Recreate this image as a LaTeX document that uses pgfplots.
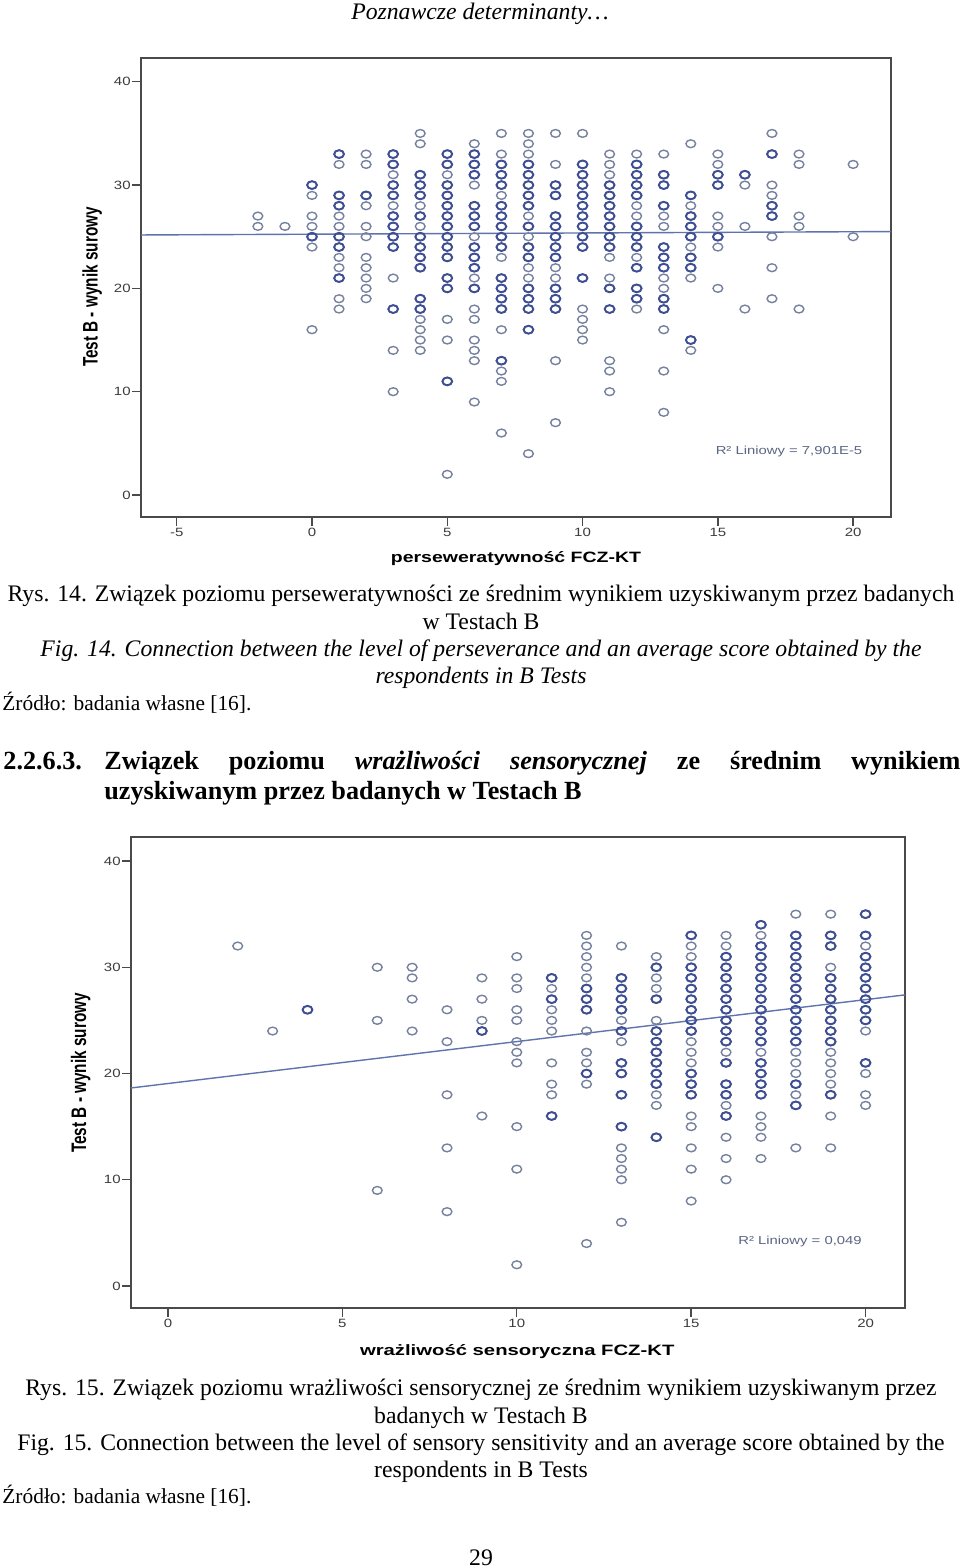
\documentclass[border=0pt]{standalone}
\usepackage{fontspec}
\setmainfont{Liberation Serif}
\setsansfont{Liberation Sans}
\usepackage{pgfplots}
\pgfplotsset{compat=1.18}

\definecolor{ringlight}{HTML}{76809F}
\definecolor{ringdark}{HTML}{3E4E92}
\definecolor{trend}{HTML}{5F74AE}
\definecolor{frameline}{HTML}{4A4A4A}
\definecolor{ticktext}{HTML}{3C3C3C}
\definecolor{fittext}{HTML}{5C6684}

\pgfplotsset{
  spss/.style={
    scale only axis,
    axis line style={color=frameline,line width=0.9pt},
    tick style={color=frameline,line width=0.7pt},
    tick align=outside,
    tickwidth=4.5pt,
    axis x line*=box,
    axis y line*=box,
    xtick pos=bottom,
    ytick pos=left,
    ytick={0,10,20,30,40},
    /pgf/number format/assume math mode=true,
    tick label style={font=\fontsize{6}{7}\selectfont\sffamily,color=ticktext,xscale=1.25},
    xticklabel style={yshift=2.5pt},
    yticklabel style={xshift=3pt},
    xlabel style={font=\fontsize{7.5}{9}\selectfont\sffamily\bfseries,xscale=1.3},
    ylabel style={font=\fontsize{10.5}{12}\selectfont\sffamily\bfseries,xscale=0.73},
  },
  light/.style={only marks,mark=o,mark size=1.95pt,mark options={color=ringlight,line width=0.7pt,xscale=1.25}},
  dark/.style={only marks,mark=o,mark size=1.95pt,mark options={color=ringdark,line width=0.95pt,xscale=1.25}},
  fit/.style={color=trend,line width=0.7pt,no marks},
}

% 1 unit in the picture = 1 px of the page
\newcommand{\body}{\fontsize{11.85}{13}\selectfont}
\newcommand{\head}{\fontsize{13.1}{15}\selectfont\bfseries}
\newcommand{\zrodlo}{\fontsize{10.7}{12}\selectfont}

\begin{document}
\begin{tikzpicture}[x=0.5pt,y=-0.5pt]
\path[fill=white,use as bounding box] (0,0) rectangle (960,1568);

\node at (480,14) {\body\itshape Poznawcze determinanty\ldots};

\begin{axis}[spss,at={(70.5pt,-258.5pt)},anchor=south west,width=375pt,height=229.5pt,
  xmin=-6.32,xmax=21.4,ymin=-2.13,ymax=42.3,
  xtick={-5,0,5,10,15,20},
  xlabel={perseweratywność FCZ-KT},
  ylabel={Test B - wynik surowy},
  xlabel style={at={(axis description cs:0.5,-0.091)},anchor=center},
  ylabel style={at={(axis description cs:-0.065,0.501)},anchor=center},
]
\addplot[light] coordinates {
 (-2,27)(-2,26)
 (-1,26)
 (0,30)(0,29)(0,27)(0,26)(0,25)(0,24)(0,16)
 (1,33)(1,32)(1,29)(1,28)(1,27)(1,26)(1,25)(1,24)(1,23)(1,22)(1,21)(1,19)(1,18)
 (2,33)(2,32)(2,29)(2,28)(2,26)(2,25)(2,23)(2,22)(2,21)(2,20)(2,19)
 (3,33)(3,32)(3,31)(3,30)(3,29)(3,28)(3,27)(3,26)(3,25)(3,24)(3,21)(3,18)(3,14)(3,10)
 (4,35)(4,34)(4,31)(4,30)(4,29)(4,28)(4,27)(4,26)(4,25)(4,24)(4,23)(4,22)(4,19)(4,18)(4,17)(4,16)(4,15)(4,14)
 (5,33)(5,32)(5,31)(5,30)(5,29)(5,28)(5,27)(5,26)(5,25)(5,24)(5,23)(5,21)(5,20)(5,17)(5,15)(5,11)(5,2)
 (6,34)(6,33)(6,32)(6,31)(6,30)(6,28)(6,27)(6,26)(6,25)(6,24)(6,23)(6,22)(6,21)(6,20)(6,18)(6,17)(6,15)(6,14)(6,13)(6,9)
 (7,35)(7,33)(7,32)(7,31)(7,30)(7,29)(7,28)(7,27)(7,26)(7,25)(7,24)(7,23)(7,21)(7,20)(7,19)(7,18)(7,16)(7,13)(7,12)(7,11)(7,6)
 (8,35)(8,34)(8,33)(8,32)(8,31)(8,30)(8,29)(8,28)(8,27)(8,26)(8,25)(8,24)(8,23)(8,22)(8,21)(8,20)(8,19)(8,18)(8,16)(8,4)
 (9,35)(9,32)(9,30)(9,29)(9,27)(9,26)(9,25)(9,24)(9,23)(9,22)(9,21)(9,20)(9,19)(9,18)(9,13)(9,7)
 (10,35)(10,32)(10,31)(10,30)(10,29)(10,28)(10,27)(10,26)(10,25)(10,24)(10,21)(10,18)(10,17)(10,16)(10,15)
 (11,33)(11,32)(11,31)(11,30)(11,29)(11,28)(11,27)(11,26)(11,25)(11,24)(11,23)(11,21)(11,20)(11,18)(11,13)(11,12)(11,10)
 (12,33)(12,32)(12,31)(12,30)(12,29)(12,28)(12,27)(12,26)(12,25)(12,24)(12,23)(12,22)(12,20)(12,19)(12,18)
 (13,33)(13,31)(13,30)(13,28)(13,27)(13,26)(13,24)(13,23)(13,22)(13,21)(13,20)(13,19)(13,18)(13,16)(13,12)(13,8)
 (14,34)(14,29)(14,28)(14,27)(14,26)(14,25)(14,24)(14,23)(14,22)(14,21)(14,15)(14,14)
 (15,33)(15,32)(15,31)(15,30)(15,27)(15,26)(15,25)(15,24)(15,20)
 (16,31)(16,30)(16,26)(16,18)
 (17,35)(17,33)(17,30)(17,29)(17,28)(17,27)(17,25)(17,22)(17,19)
 (18,33)(18,32)(18,27)(18,26)(18,18)
 (20,32)(20,25)
};
% darker rings: several respondents on one point
\addplot[dark] coordinates {
 (0,30)(0,25)
 (1,33)(1,29)(1,28)(1,25)(1,24)(1,21)
 (2,29)
 (3,33)(3,32)(3,30)(3,29)(3,27)(3,26)(3,25)(3,24)(3,18)
 (4,31)(4,30)(4,29)(4,27)(4,25)(4,24)(4,23)(4,22)(4,19)(4,18)
 (5,33)(5,32)(5,30)(5,29)(5,28)(5,27)(5,26)(5,25)(5,24)(5,23)(5,21)(5,20)(5,11)
 (6,33)(6,32)(6,31)(6,28)(6,27)(6,26)(6,24)(6,23)(6,22)(6,20)
 (7,32)(7,31)(7,30)(7,28)(7,27)(7,26)(7,25)(7,24)(7,21)(7,20)(7,19)(7,18)(7,13)
 (8,32)(8,31)(8,30)(8,29)(8,28)(8,26)(8,24)(8,23)(8,20)(8,19)(8,18)(8,16)
 (9,30)(9,29)(9,27)(9,26)(9,25)(9,24)(9,23)(9,20)(9,19)(9,18)
 (10,32)(10,31)(10,30)(10,29)(10,28)(10,27)(10,26)(10,25)(10,24)(10,21)
 (11,30)(11,29)(11,28)(11,27)(11,26)(11,25)(11,24)(11,20)(11,18)
 (12,32)(12,31)(12,30)(12,29)(12,26)(12,25)(12,24)(12,22)(12,20)(12,19)
 (13,31)(13,30)(13,28)(13,24)(13,23)(13,22)(13,19)(13,18)
 (14,29)(14,27)(14,26)(14,25)(14,23)(14,22)(14,15)
 (15,31)(15,30)(15,25)
 (16,31)
 (17,33)(17,28)(17,27)
};
\addplot[fit] coordinates {(-6.32,25.17)(21.4,25.5)};
\end{axis}
\node[font=\fontsize{5.8}{7}\selectfont\sffamily,color=fittext,xscale=1.28] at (789,451) {R² Liniowy = 7,901E-5};

\node at (481,596) {\body Rys. 14. Związek poziomu perseweratywności ze średnim wynikiem uzyskiwanym przez badanych};
\node at (481,621) {\body w Testach B};
\node at (481,651) {\body\itshape Fig. 14. Connection between the level of perseverance and an average score obtained by the};
\node at (481,678) {\body\itshape respondents in B Tests};
\node[anchor=west,inner sep=0pt] at (2,703) {\zrodlo Źródło: badania własne [16].};

\node[anchor=west,inner sep=0pt] at (3,761) {\head 2.2.6.3.};
\node[anchor=west,inner sep=0pt] at (104,763) {\head\hbox to 428pt{Związek\hfill poziomu\hfill \textit{wrażliwości}\hfill \textit{sensorycznej}\hfill ze\hfill średnim\hfill wynikiem}};
\node[anchor=west,inner sep=0pt] at (104,793) {\head uzyskiwanym przez badanych w Testach B};

\begin{axis}[spss,at={(65.5pt,-654pt)},anchor=south west,width=387pt,height=235.5pt,
  xmin=-1.06,xmax=21.13,ymin=-2.07,ymax=42.26,
  xtick={0,5,10,15,20},
  xlabel={wrażliwość sensoryczna FCZ-KT},
  ylabel={Test B - wynik surowy},
  xlabel style={at={(axis description cs:0.499,-0.093)},anchor=center,xscale=1.04},
  ylabel style={at={(axis description cs:-0.065,0.499)},anchor=center},
]
\addplot[light] coordinates {
 (2,32)
 (3,24)
 (4,26)
 (6,30)(6,25)(6,9)
 (7,30)(7,29)(7,27)(7,24)
 (8,26)(8,23)(8,18)(8,13)(8,7)
 (9,29)(9,27)(9,25)(9,24)(9,16)
 (10,31)(10,29)(10,28)(10,26)(10,25)(10,23)(10,22)(10,21)(10,15)(10,11)(10,2)
 (11,29)(11,28)(11,27)(11,26)(11,25)(11,24)(11,21)(11,19)(11,18)(11,16)
 (12,33)(12,32)(12,31)(12,30)(12,29)(12,28)(12,27)(12,26)(12,24)(12,22)(12,21)(12,20)(12,19)(12,4)
 (13,32)(13,29)(13,28)(13,27)(13,26)(13,25)(13,24)(13,23)(13,21)(13,20)(13,18)(13,15)(13,13)(13,12)(13,11)(13,10)(13,6)
 (14,31)(14,30)(14,29)(14,28)(14,27)(14,25)(14,24)(14,23)(14,22)(14,21)(14,20)(14,19)(14,18)(14,17)(14,14)
 (15,33)(15,32)(15,31)(15,30)(15,29)(15,28)(15,27)(15,26)(15,25)(15,24)(15,23)(15,22)(15,21)(15,20)(15,19)(15,18)(15,16)(15,15)(15,13)(15,11)(15,8)
 (16,33)(16,32)(16,31)(16,30)(16,29)(16,28)(16,27)(16,26)(16,25)(16,24)(16,23)(16,22)(16,21)(16,19)(16,18)(16,17)(16,16)(16,14)(16,12)(16,10)
 (17,34)(17,33)(17,32)(17,31)(17,30)(17,29)(17,28)(17,27)(17,26)(17,25)(17,24)(17,23)(17,22)(17,21)(17,20)(17,19)(17,18)(17,16)(17,15)(17,14)(17,12)
 (18,35)(18,33)(18,32)(18,31)(18,30)(18,29)(18,28)(18,27)(18,26)(18,25)(18,24)(18,23)(18,22)(18,21)(18,20)(18,19)(18,18)(18,17)(18,13)
 (19,35)(19,33)(19,32)(19,30)(19,29)(19,28)(19,27)(19,26)(19,25)(19,24)(19,23)(19,22)(19,21)(19,20)(19,19)(19,18)(19,16)(19,13)
 (20,35)(20,33)(20,32)(20,31)(20,30)(20,29)(20,28)(20,27)(20,26)(20,25)(20,24)(20,21)(20,20)(20,18)(20,17)
};
\addplot[dark] coordinates {
 (4,26)
 (9,24)
 (11,29)(11,27)(11,16)
 (12,28)(12,27)(12,26)(12,20)
 (13,29)(13,28)(13,27)(13,26)(13,24)(13,21)(13,20)(13,18)(13,15)
 (14,30)(14,27)(14,24)(14,23)(14,22)(14,21)(14,20)(14,19)(14,14)
 (15,33)(15,30)(15,29)(15,28)(15,27)(15,26)(15,25)(15,24)(15,20)(15,19)(15,18)
 (16,31)(16,30)(16,29)(16,28)(16,27)(16,26)(16,25)(16,24)(16,23)(16,21)(16,19)(16,18)(16,16)
 (17,34)(17,32)(17,31)(17,30)(17,29)(17,28)(17,27)(17,26)(17,25)(17,24)(17,23)(17,21)(17,20)(17,19)(17,18)
 (18,33)(18,32)(18,31)(18,30)(18,29)(18,28)(18,27)(18,26)(18,25)(18,24)(18,23)(18,19)(18,17)
 (19,33)(19,32)(19,29)(19,28)(19,27)(19,26)(19,25)(19,24)(19,23)(19,18)
 (20,35)(20,33)(20,31)(20,30)(20,29)(20,28)(20,27)(20,26)(20,25)(20,21)
};
\addplot[fit] coordinates {(-1.06,18.64)(21.13,27.4)};
\end{axis}
\node[font=\fontsize{5.8}{7}\selectfont\sffamily,color=fittext,xscale=1.28] at (800,1241) {R² Liniowy = 0,049};

\node at (481,1390) {\body Rys. 15. Związek poziomu wrażliwości sensorycznej ze średnim wynikiem uzyskiwanym przez};
\node at (481,1418) {\body badanych w Testach B};
\node at (481,1445) {\body Fig. 15. Connection between the level of sensory sensitivity and an average score obtained by the};
\node at (481,1472) {\body respondents in B Tests};
\node[anchor=west,inner sep=0pt] at (2,1496) {\zrodlo Źródło: badania własne [16].};
\node at (481,1558) {\body 29};
\end{tikzpicture}
\end{document}
